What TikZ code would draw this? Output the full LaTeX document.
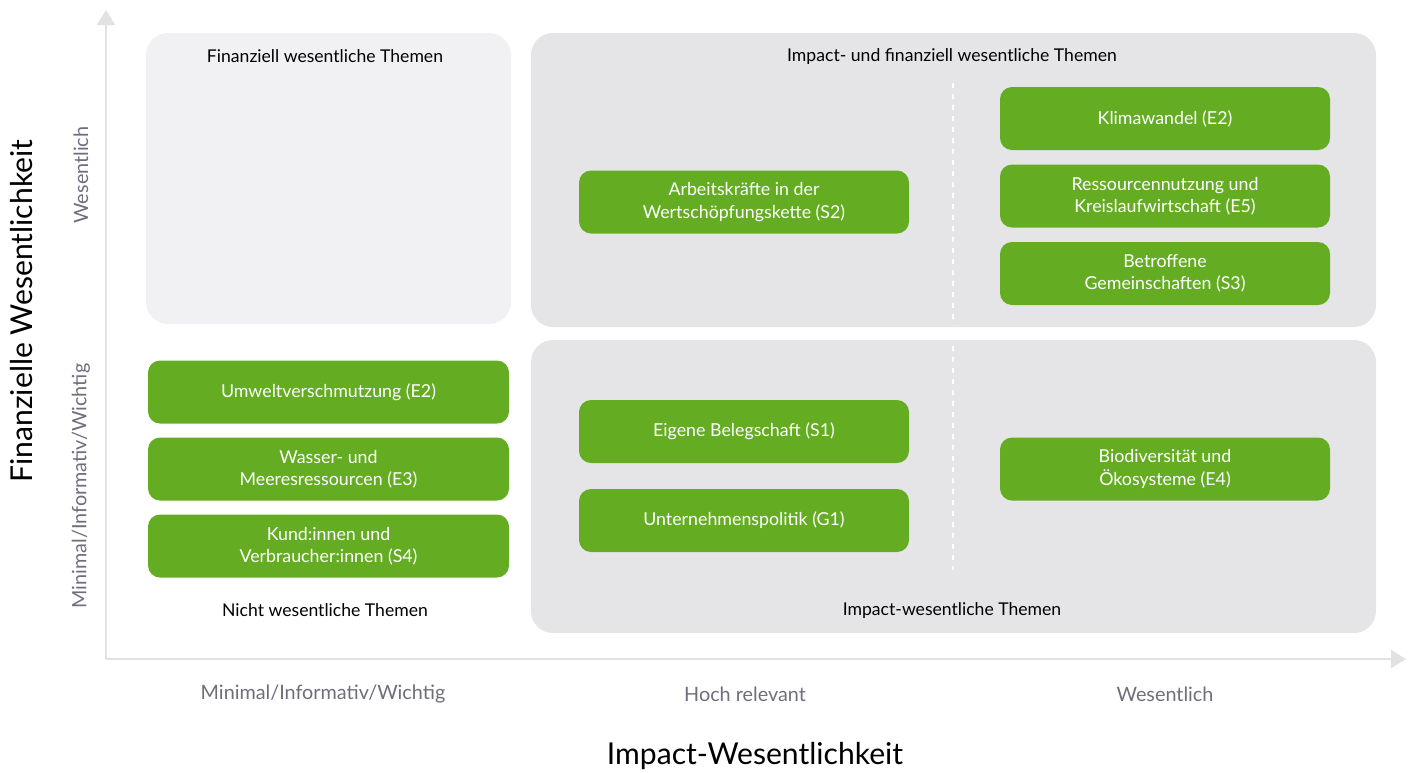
\documentclass[tikz,border=0pt]{standalone}
\usepackage{fontspec}
\setmainfont{Lato}
\usetikzlibrary{arrows.meta}
\definecolor{grn}{HTML}{64AD22}
\definecolor{panelA}{HTML}{F1F1F3}
\definecolor{panelB}{HTML}{E5E5E7}
\definecolor{axisc}{HTML}{E2E2E4}
\definecolor{lblgray}{HTML}{6E6E7C}
\tikzset{
  panel/.style={rounded corners=22pt, inner sep=0pt, draw=none},
  topic/.style={fill=grn, rounded corners=12pt, minimum width=330pt, minimum height=63pt, inner sep=0pt, text=white, align=center, font=\fontsize{17.8}{22.5}\selectfont},
  title/.style={font=\fontsize{17.6}{20}\selectfont, text=black},
  ticklbl/.style={font=\fontsize{19.8}{22}\selectfont, text=lblgray},
  axtitle/.style={font=\fontsize{30.1}{34}\selectfont, text=black},
  axisline/.style={draw=axisc, line width=2.5pt},
  divider/.style={draw=white, line width=2pt, dash pattern=on 5pt off 6pt}
}
\begin{document}
\begin{tikzpicture}[x=1pt,y=-1pt]
\useasboundingbox (0,0) rectangle (1410,772);
% axes
\coordinate (o) at (106,659);
\coordinate (ytip) at (106,10);
\coordinate (xtip) at (1406,659);
\draw[axisline, -{Triangle[width=18pt,length=15pt]}] (o) -- (ytip);
\draw[axisline, -{Triangle[width=18pt,length=15pt]}] (o) -- (xtip);
% panels
\node[panel, fill=panelA, minimum width=365pt, minimum height=291pt] (pTL) at (328.5,178.5) {};
\node[panel, fill=panelB, minimum width=845pt, minimum height=294pt] (pTR) at (953.5,180) {};
\node[panel, fill=panelB, minimum width=845pt, minimum height=293pt] (pBR) at (953.5,486.5) {};
% dividers
\coordinate (d1a) at (953,83);
\coordinate (d1b) at (953,325);
\coordinate (d2a) at (953,346);
\coordinate (d2b) at (953,570);
\draw[divider] (d1a) -- (d1b);
\draw[divider] (d2a) -- (d2b);
% panel titles
\node[title] (tTL) at (325,56.5) {Finanziell wesentliche Themen};
\node[title] (tTR) at (952,56.5) {Impact- und finanziell wesentliche Themen};
\node[title] (tBL) at (325,610.5) {Nicht wesentliche Themen};
\node[title] (tBR) at (952,610.5) {Impact-wesentliche Themen};
% topics
\node[topic] (klima) at (1165,118.5) {Klimawandel (E2)};
\node[topic] (ress) at (1165,196) {Ressourcennutzung und\\Kreislaufwirtschaft (E5)};
\node[topic] (betr) at (1165,273.5) {Betroffene\\Gemeinschaften (S3)};
\node[topic] (arb) at (744,202) {Arbeitskräfte in der\\Wertschöpfungskette (S2)};
\node[topic] (eig) at (744,431.5) {Eigene Belegschaft (S1)};
\node[topic] (unt) at (744,520.5) {Unternehmenspolitik (G1)};
\node[topic] (bio) at (1165,469) {Biodiversität und\\Ökosysteme (E4)};
\node[topic, minimum width=361pt] (umw) at (328.5,392) {Umweltverschmutzung (E2)};
\node[topic, minimum width=361pt] (was) at (328.5,469) {Wasser- und\\Meeresressourcen (E3)};
\node[topic, minimum width=361pt] (kun) at (328.5,546) {Kund:innen und\\Verbraucher:innen (S4)};
% axis tick labels
\node[ticklbl] (xl1) at (323,694) {Minimal/Informativ/Wichtig};
\node[ticklbl] (xl2) at (745,694) {Hoch relevant};
\node[ticklbl] (xl3) at (1165,694) {Wesentlich};
\node[ticklbl, rotate=90] (yl1) at (81,175) {Wesentlich};
\node[ticklbl, rotate=90] (yl2) at (81,486) {Minimal/Informativ/Wichtig};
% axis titles
\node[axtitle] (xt) at (755,756) {Impact-Wesentlichkeit};
\node[axtitle, rotate=90] (yt) at (22,311) {Finanzielle Wesentlichkeit};
\end{tikzpicture}
\end{document}
